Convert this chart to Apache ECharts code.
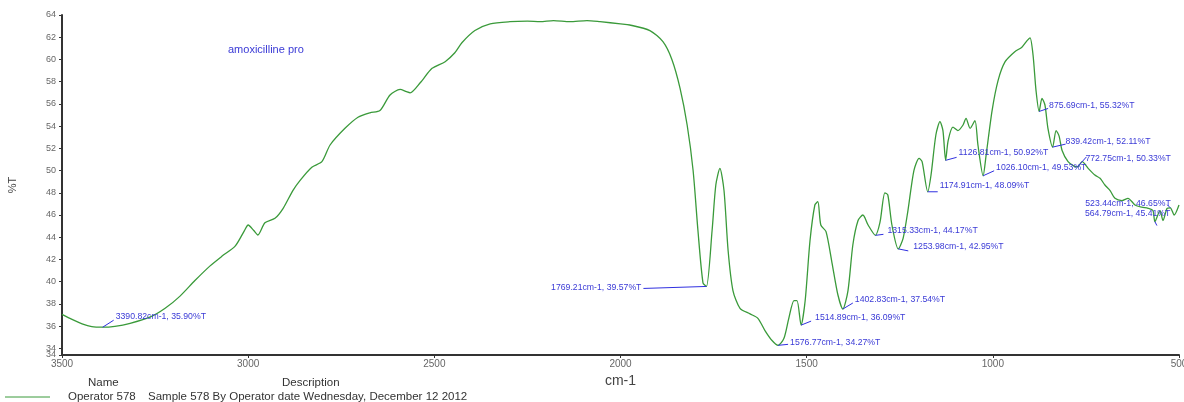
<!DOCTYPE html>
<html>
<head>
<meta charset="utf-8">
<script src="https://cdn.jsdelivr.net/npm/echarts@6/dist/echarts.min.js"></script>
<style>
  html, body { margin: 0; padding: 0; background: #ffffff; }
  #chart { width: 1184px; height: 402px; }
</style>
</head>
<body>
<div id="chart"></div>
<script>
// IR transmission spectrum, wavenumber (cm-1) vs transmittance (%T)
const wavenumbers = [
  3500, 3473, 3446, 3420, 3390.82, 3358, 3317, 3264, 3223, 3183,
  3143, 3103, 3070, 3035, 3010, 3000, 2985, 2974, 2955, 2928,
  2906, 2880, 2861, 2829, 2802, 2780, 2740, 2705, 2673, 2646,
  2619, 2592, 2575, 2565, 2538, 2506, 2471, 2445, 2426, 2391,
  2350, 2297, 2250, 2216, 2180, 2136, 2090, 2055, 2000, 1975,
  1921, 1886, 1862, 1840, 1821, 1805, 1792, 1778.5, 1769.21, 1754,
  1744, 1733, 1722, 1711, 1698, 1679, 1652, 1631, 1612, 1593,
  1576.77, 1561, 1548, 1534, 1526, 1514.89, 1504, 1491, 1478, 1470,
  1462, 1448, 1432, 1416, 1402.83, 1389, 1376, 1362, 1349, 1335,
  1315.33, 1303, 1290, 1282, 1271, 1253.98, 1241, 1228, 1212, 1198,
  1190, 1174.91, 1166, 1153, 1142, 1134, 1126.81, 1120, 1107, 1094,
  1080, 1072, 1061, 1048, 1040, 1026.10, 1018, 1002, 986, 967,
  941, 922, 908, 900, 892, 884, 875.69, 868, 860, 852,
  839.42, 830, 822, 814, 798, 782, 772.75, 760, 744, 726,
  712, 699, 685, 672, 653, 637, 618, 600, 583, 570,
  564.79, 551, 543, 532, 523.44, 513, 500
];
const transmittance = [
  37.06, 36.6, 36.2, 35.95, 35.90, 35.98, 36.25, 36.8, 37.6, 38.7,
  40.1, 41.4, 42.3, 43.2, 44.6, 45.1, 44.6, 44.2, 45.3, 45.7,
  46.6, 48.2, 49.1, 50.3, 50.8, 52.3, 53.8, 54.8, 55.2, 55.4,
  56.8, 57.3, 57.1, 57.0, 57.9, 59.2, 59.8, 60.6, 61.5, 62.6,
  63.2, 63.4, 63.45, 63.4, 63.5, 63.4, 63.5, 63.4, 63.2, 63.1,
  62.6, 61.6, 60.0, 57.4, 54.1, 50.0, 44.6, 39.9, 39.57, 44.6,
  48.7, 50.2, 48.2, 42.8, 39.2, 37.6, 37.1, 36.7, 35.6, 34.7,
  34.27, 34.9, 36.7, 38.3, 38.3, 36.09, 38.3, 43.7, 46.9, 47.2,
  45.1, 44.5, 41.7, 38.8, 37.54, 39.2, 43.3, 45.5, 46.0, 45.1,
  44.17, 45.35, 48.0, 47.8, 45.1, 42.95, 43.9, 46.4, 50.0, 51.1,
  50.8, 48.09, 49.6, 53.2, 54.4, 53.6, 50.92, 52.7, 53.9, 53.6,
  54.1, 54.7, 53.8, 54.5, 52.3, 49.53, 51.4, 55.4, 58.1, 59.8,
  60.7, 61.1, 61.7, 61.95, 60.4, 57.2, 55.32, 56.5, 55.9, 53.8,
  52.11, 53.6, 53.1, 51.8, 50.8, 50.4, 50.33, 50.8, 50.2, 49.6,
  49.3, 48.7, 48.2, 47.5, 47.3, 47.5, 46.9, 46.7, 46.6, 46.4,
  45.41, 46.4, 45.5, 46.6, 46.65, 46.0, 46.9
];

// Picked peaks
const peakWavenumbers = [3390.82, 1769.21, 1576.77, 1514.89, 1402.83, 1315.33, 1253.98,
  1174.91, 1126.81, 1026.10, 875.69, 839.42, 772.75, 523.44, 564.79];
const peakTransmittance = [35.90, 39.57, 34.27, 36.09, 37.54, 44.17, 42.95,
  48.09, 50.92, 49.53, 55.32, 52.11, 50.33, 46.65, 45.41];

const xTickValues = [3500, 3000, 2500, 2000, 1500, 1000, 500];
const yTickValues = [34, 36, 38, 40, 42, 44, 46, 48, 50, 52, 54, 56, 58, 60, 62, 64];
const yAxisMin = 33.4;
const yAxisMax = 64;

// Label placement for each peak: [textDx, textDy, align, lineDx, lineDy]
const peakLabelLayout = [
  [13, -11, 'left', 11, -7],
  [-65, 1, 'right', -63, 2],
  [12, -3, 'left', 10, -1],
  [14, -8, 'left', 10, -4],
  [12, -9, 'left', 10, -6],
  [12, -5, 'left', 8, -1],
  [15, -2, 'left', 10, 2],
  [12, -6, 'left', 10, 0],
  [13, -8, 'left', 11, -3],
  [13, -8, 'left', 11, -5],
  [10, -6, 'left', 9, -3],
  [13, -6, 'left', 13, -3],
  [8, -8, 'left', 9, -10],
  [-85, -4, 'left', -3, -3],
  [-70, -8, 'left', 2, 4]
];

const FONT = 'Liberation Sans, Arial, sans-serif';
const spectrum = wavenumbers.map((w, i) => [w, transmittance[i]]);
const peaks = peakWavenumbers.map((w, i) => [w, peakTransmittance[i], i]);

const yLabelStyle = { color: '#666', fontSize: 9, fontFamily: FONT, margin: 6 };

const chart = echarts.init(document.getElementById('chart'), null, { renderer: 'canvas' });

chart.setOption({
  animation: false,
  backgroundColor: '#ffffff',
  title: {
    text: 'amoxicilline pro',
    left: 223,
    top: 39,
    textStyle: { color: '#3a3ad6', fontSize: 11, fontWeight: 'normal', fontFamily: FONT }
  },
  grid: { left: 62, right: 5, top: 15, bottom: 47, containLabel: false, outerBoundsMode: 'none' },
  xAxis: {
    type: 'value',
    inverse: true,
    min: 500,
    max: 3500,
    interval: 500,
    name: 'cm-1',
    nameLocation: 'middle',
    nameGap: 16,
    nameTextStyle: { color: '#444', fontSize: 14, fontFamily: FONT },
    axisLine: { lineStyle: { color: '#333', width: 2 } },
    axisTick: { length: 3, lineStyle: { color: '#333', width: 1 } },
    axisLabel: {
      color: '#666', fontSize: 10, fontFamily: FONT, margin: 4,
      customValues: xTickValues,
      formatter: v => String(v)
    },
    splitLine: { show: false }
  },
  yAxis: [
    {
      type: 'value',
      min: yAxisMin,
      max: yAxisMax,
      name: '%T',
      nameLocation: 'middle',
      nameGap: 44,
      nameRotate: 90,
      nameTextStyle: { color: '#444', fontSize: 11, fontFamily: FONT },
      axisLine: { show: true, lineStyle: { color: '#333', width: 2 } },
      axisTick: { show: true, length: 3, lineStyle: { color: '#333', width: 1 }, customValues: yTickValues },
      axisLabel: Object.assign({ customValues: yTickValues, hideOverlap: false }, yLabelStyle),
      splitLine: { show: false }
    },
    {
      // bottom end of the scale, labelled with its rounded value
      type: 'value',
      position: 'left',
      min: yAxisMin,
      max: yAxisMax,
      axisLine: { show: false },
      axisTick: { show: true, length: 3, lineStyle: { color: '#333', width: 1 }, customValues: [yAxisMin] },
      axisLabel: Object.assign({ customValues: [yAxisMin], formatter: v => String(Math.ceil(v)) }, yLabelStyle),
      splitLine: { show: false }
    }
  ],
  series: [
    {
      name: 'Operator 578',
      type: 'line',
      data: spectrum,
      showSymbol: false,
      smooth: 0.25,
      lineStyle: { color: '#3a9a3a', width: 1.3 },
      z: 2
    },
    {
      type: 'custom',
      data: peaks,
      z: 3,
      renderItem: function (params, api) {
        const w = api.value(0), t = api.value(1), idx = api.value(2);
        const p = api.coord([w, t]);
        const L = peakLabelLayout[idx];
        return {
          type: 'group',
          children: [
            {
              type: 'line',
              shape: { x1: p[0], y1: p[1], x2: p[0] + L[3], y2: p[1] + L[4] },
              style: { stroke: '#3030e0', lineWidth: 1 }
            },
            {
              type: 'text',
              x: p[0] + L[0],
              y: p[1] + L[1],
              style: {
                text: w.toFixed(2) + 'cm-1, ' + t.toFixed(2) + '%T',
                fill: '#3a3ad6',
                font: '8.7px ' + FONT,
                align: L[2],
                verticalAlign: 'middle'
              }
            }
          ]
        };
      }
    }
  ],
  graphic: [
    { type: 'text', left: 88, top: 377, style: { text: 'Name', fill: '#333', font: '11.5px ' + FONT } },
    { type: 'text', left: 282, top: 377, style: { text: 'Description', fill: '#333', font: '11.5px ' + FONT } },
    { type: 'line', shape: { x1: 5, y1: 397, x2: 50, y2: 397 }, style: { stroke: '#3a9a3a', lineWidth: 1 } },
    { type: 'text', left: 68, top: 391, style: { text: 'Operator 578', fill: '#333', font: '11.5px ' + FONT } },
    { type: 'text', left: 148, top: 391, style: { text: 'Sample 578 By Operator date Wednesday, December 12 2012', fill: '#333', font: '11.5px ' + FONT } }
  ]
});
</script>
</body>
</html>
